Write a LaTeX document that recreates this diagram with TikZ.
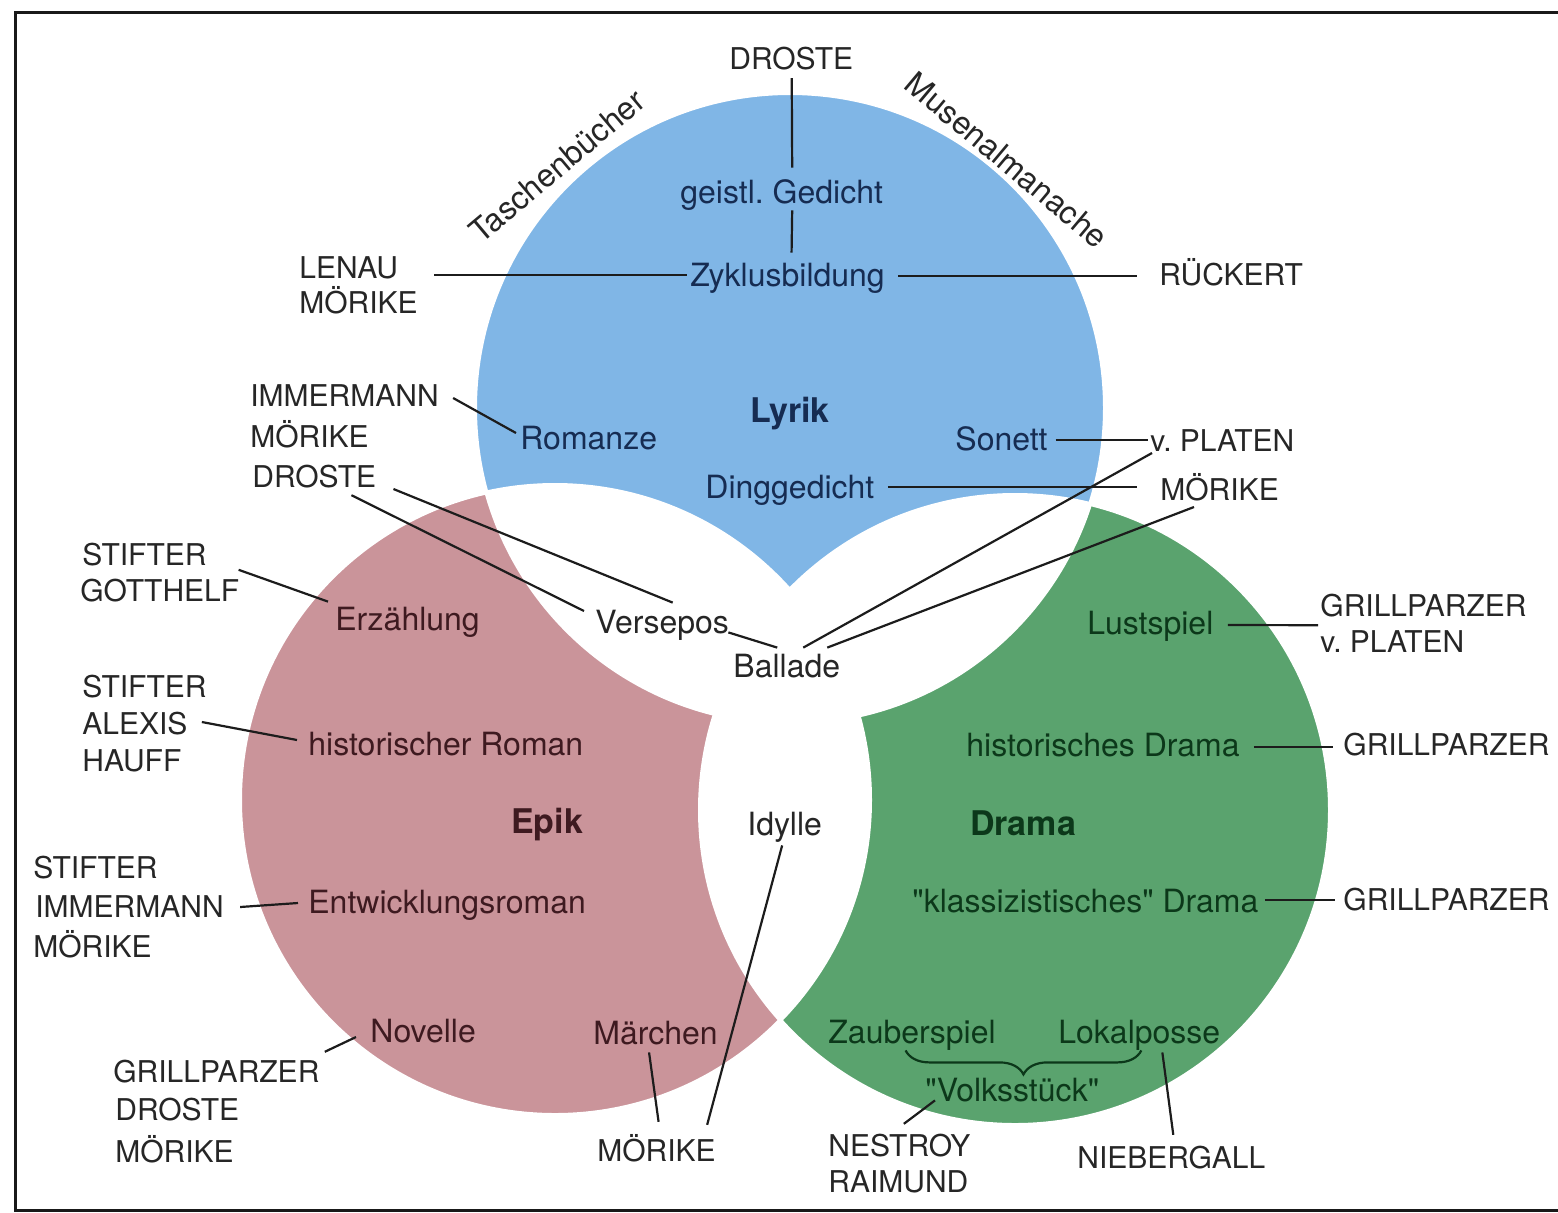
\documentclass[tikz,border=0pt]{standalone}
\usepackage{fontspec}
\setmainfont{TeX Gyre Heros}
\newfontfamily\heros{TeX Gyre Heros}
\usetikzlibrary{decorations.pathreplacing}
\definecolor{bluefill}{RGB}{128,182,230}
\definecolor{pinkfill}{RGB}{202,148,154}
\definecolor{greenfill}{RGB}{90,163,110}
\definecolor{bluetext}{RGB}{22,44,82}
\definecolor{pinktext}{RGB}{62,26,32}
\definecolor{greentext}{RGB}{12,56,26}
\definecolor{namecol}{RGB}{38,38,38}
\definecolor{linecol}{RGB}{28,28,28}
\definecolor{framecol}{RGB}{25,25,25}
\frenchspacing
\begin{document}
\begin{tikzpicture}[x=0.5pt,y=-0.5pt,
  nm/.style={font=\heros\fontsize{15}{17}\selectfont, text=namecol, inner sep=0pt, text height=10.8pt, text depth=0pt, anchor=west},
  gn/.style={font=\heros\fontsize{16}{18}\selectfont, inner sep=0pt, text height=11.5pt, text depth=0pt, anchor=west},
  gnB/.style={gn, text=bluetext},
  gnP/.style={gn, text=pinktext},
  gnG/.style={gn, text=greentext},
  gnW/.style={gn, text=namecol},
  ttl/.style={font=\heros\fontsize{17}{19}\selectfont\bfseries, inner sep=0pt, text height=12.2pt, text depth=0pt},
  conn/.style={draw=linecol, line width=1.1pt},
  gapline/.style={draw=white, line width=2pt}]
\useasboundingbox (0,0) rectangle (1558,1212);
\fill[white] (0,0) rectangle (1558,1212);
% circles
\coordinate (cB) at (790,408);
\coordinate (cP) at (555,800);
\coordinate (cG) at (1015,810);
\fill[bluefill] (cB) circle[radius=157.5pt];
\fill[pinkfill] (cP) circle[radius=157.5pt];
\fill[greenfill] (cG) circle[radius=157.5pt];
\begin{scope}
  \clip (cB) circle[radius=157.5pt];
  \fill[white] (cP) circle[radius=157.5pt];
  \fill[white] (cG) circle[radius=157.5pt];
\end{scope}
\begin{scope}
  \clip (cP) circle[radius=157.5pt];
  \fill[white] (cG) circle[radius=157.5pt];
\end{scope}
\draw[gapline] (cB) circle[radius=157.5pt];
\draw[gapline] (cP) circle[radius=157.5pt];
\draw[gapline] (cG) circle[radius=157.5pt];
% frame
\draw[line width=1.5pt, draw=framecol] (1560,12) -- (15,12) -- (15,1210) -- (1560,1210);
% genre nodes
\node[gnB] (geistl) at (680,192) {geistl.\ Gedicht};
\node[gnB] (zyklus) at (690,275) {Zyklusbildung};
\node[gnB] (romanze) at (520,438) {Romanze};
\node[gnB] (sonett) at (955,439) {Sonett};
\node[gnB] (ding) at (705,487) {Dinggedicht};
\node[ttl, text=bluetext] (lyrik) at (790,410) {Lyrik};
\node[gnW] (versepos) at (595,622) {Versepos};
\node[gnW] (ballade) at (733,666) {Ballade};
\node[gnW] (idylle) at (747,824) {Idylle};
\node[gnP] (erz) at (335,619) {Erzählung};
\node[gnP] (histrom) at (308,744) {historischer Roman};
\node[ttl, text=pinktext] (epik) at (547,821) {Epik};
\node[gnP] (entw) at (308,902) {Entwicklungsroman};
\node[gnP] (novelle) at (370,1031) {Novelle};
\node[gnP] (maerchen) at (593,1033) {Märchen};
\node[gnG] (lust) at (1087,623) {Lustspiel};
\node[gnG] (histdr) at (966,745) {historisches Drama};
\node[ttl, text=greentext] (drama) at (1023,823) {Drama};
\node[gnG] (klass) at (912,901) {"klassizistisches" Drama};
\node[gnG] (zauber) at (828,1032) {Zauberspiel};
\node[gnG] (lokal) at (1058,1032) {Lokalposse};
\node[gnG] (volks) at (925,1090) {"Volksstück"};
\node[gnW, anchor=center, rotate=40] (tasch) at (557,166) {Taschenbücher};
\node[gnW, anchor=center, rotate=-40] (musen) at (1007,160) {Musenalmanache};
% name nodes
\node[nm] (droste0) at (729,59) {DROSTE};
\node[nm] (lenau) at (299,268) {LENAU};
\node[nm] (moer0) at (299,303) {MÖRIKE};
\node[nm] (rueck) at (1159,275) {RÜCKERT};
\node[nm] (imm1) at (250,396) {IMMERMANN};
\node[nm] (moer1) at (250,437) {MÖRIKE};
\node[nm] (dros1) at (252,477) {DROSTE};
\node[nm] (stif1) at (82,555) {STIFTER};
\node[nm] (gott) at (80,591) {GOTTHELF};
\node[nm] (stif2) at (82,687) {STIFTER};
\node[nm] (alex) at (82,724) {ALEXIS};
\node[nm] (hauff) at (82,761) {HAUFF};
\node[nm] (stif3) at (33,868) {STIFTER};
\node[nm] (imm2) at (35,907) {IMMERMANN};
\node[nm] (moer2) at (33,947) {MÖRIKE};
\node[nm] (grill1) at (113,1072) {GRILLPARZER};
\node[nm] (dros2) at (115,1110) {DROSTE};
\node[nm] (moer3) at (115,1152) {MÖRIKE};
\node[nm] (moer4) at (597,1151) {MÖRIKE};
\node[nm] (plat1) at (1150,441) {v.\ PLATEN};
\node[nm] (moer5) at (1160,490) {MÖRIKE};
\node[nm] (grill2) at (1320,606) {GRILLPARZER};
\node[nm] (plat2) at (1320,642) {v.\ PLATEN};
\node[nm] (grill3) at (1343,745) {GRILLPARZER};
\node[nm] (grill4) at (1343,900) {GRILLPARZER};
\node[nm] (nest) at (828,1146) {NESTROY};
\node[nm] (raim) at (828,1182) {RAIMUND};
\node[nm] (nieb) at (1077,1158) {NIEBERGALL};
% connectors
\draw[conn] ([shift={(0.5,8)}]droste0.south) -- ([shift={(10.5,-12.5)}]geistl.north);
\draw[conn] ([shift={(10.5,6.5)}]geistl.south) -- ([shift={(4,-10.5)}]zyklus.north);
\draw[conn] ([shift={(36,7)}]lenau.east) -- ([shift={(-3,0)}]zyklus.west);
\draw[conn] ([shift={(13,1)}]zyklus.east) -- ([shift={(-22,1)}]rueck.west);
\draw[conn] ([shift={(14,2)}]imm1.east) -- ([shift={(-4,-5)}]romanze.west);
\draw[conn] ([shift={(-25,7)}]dros1.south east) -- ([shift={(-11,-11)}]versepos.west);
\draw[conn] ([shift={(17,12)}]dros1.east) -- ([shift={(10.5,-7.5)}]versepos.north);
\draw[conn] ([shift={(-1,-1.5)}]versepos.south east) -- ([shift={(-9.5,-6.5)}]ballade.north);
\draw[conn] ([shift={(16.5,-6.5)}]ballade.north) -- ([shift={(2,12)}]plat1.west);
\draw[conn] ([shift={(40.5,-6.5)}]ballade.north) -- ([shift={(34,17)}]moer5.west);
\draw[conn] ([shift={(7.5,1)}]sonett.east) -- ([shift={(-2,-1)}]plat1.west);
\draw[conn] ([shift={(13,0)}]ding.east) -- ([shift={(-23,-3)}]moer5.west);
\draw[conn] ([shift={(-1,-10)}]gott.north east) -- ([shift={(-7,-5.5)}]erz.north west);
\draw[conn] ([shift={(14,-2)}]alex.east) -- ([shift={(-11,-4)}]histrom.west);
\draw[conn] ([shift={(16,0)}]imm2.east) -- ([shift={(-10,1)}]entw.west);
\draw[conn] ([shift={(5,-9)}]grill1.north east) -- ([shift={(-14,6)}]novelle.west);
\draw[conn] ([shift={(-6.5,7.5)}]maerchen.south) -- ([shift={(2,-18)}]moer4.north);
\draw[conn] ([shift={(-2.5,9.5)}]idylle.south) -- ([shift={(-9,-15)}]moer4.north east);
\draw[conn] ([shift={(14,2)}]lust.east) -- ([shift={(-2,8)}]grill2.south west);
\draw[conn] ([shift={(14,2)}]histdr.east) -- ([shift={(-10,2)}]grill3.west);
\draw[conn] ([shift={(6,-1)}]klass.east) -- ([shift={(-8,0)}]grill4.west);
\draw[conn, draw=greentext, decorate, decoration={brace, mirror, amplitude=12pt}] ([shift={(-6.5,6.5)}]zauber.south) -- ([shift={(2,6.5)}]lokal.south);
\draw[conn] ([shift={(4.5,-11)}]nest.north) -- ([shift={(10,-1.5)}]volks.south west);
\draw[conn] ([shift={(23,8.5)}]lokal.south) -- ([shift={(2,-12)}]nieb.north);
\end{tikzpicture}
\end{document}
